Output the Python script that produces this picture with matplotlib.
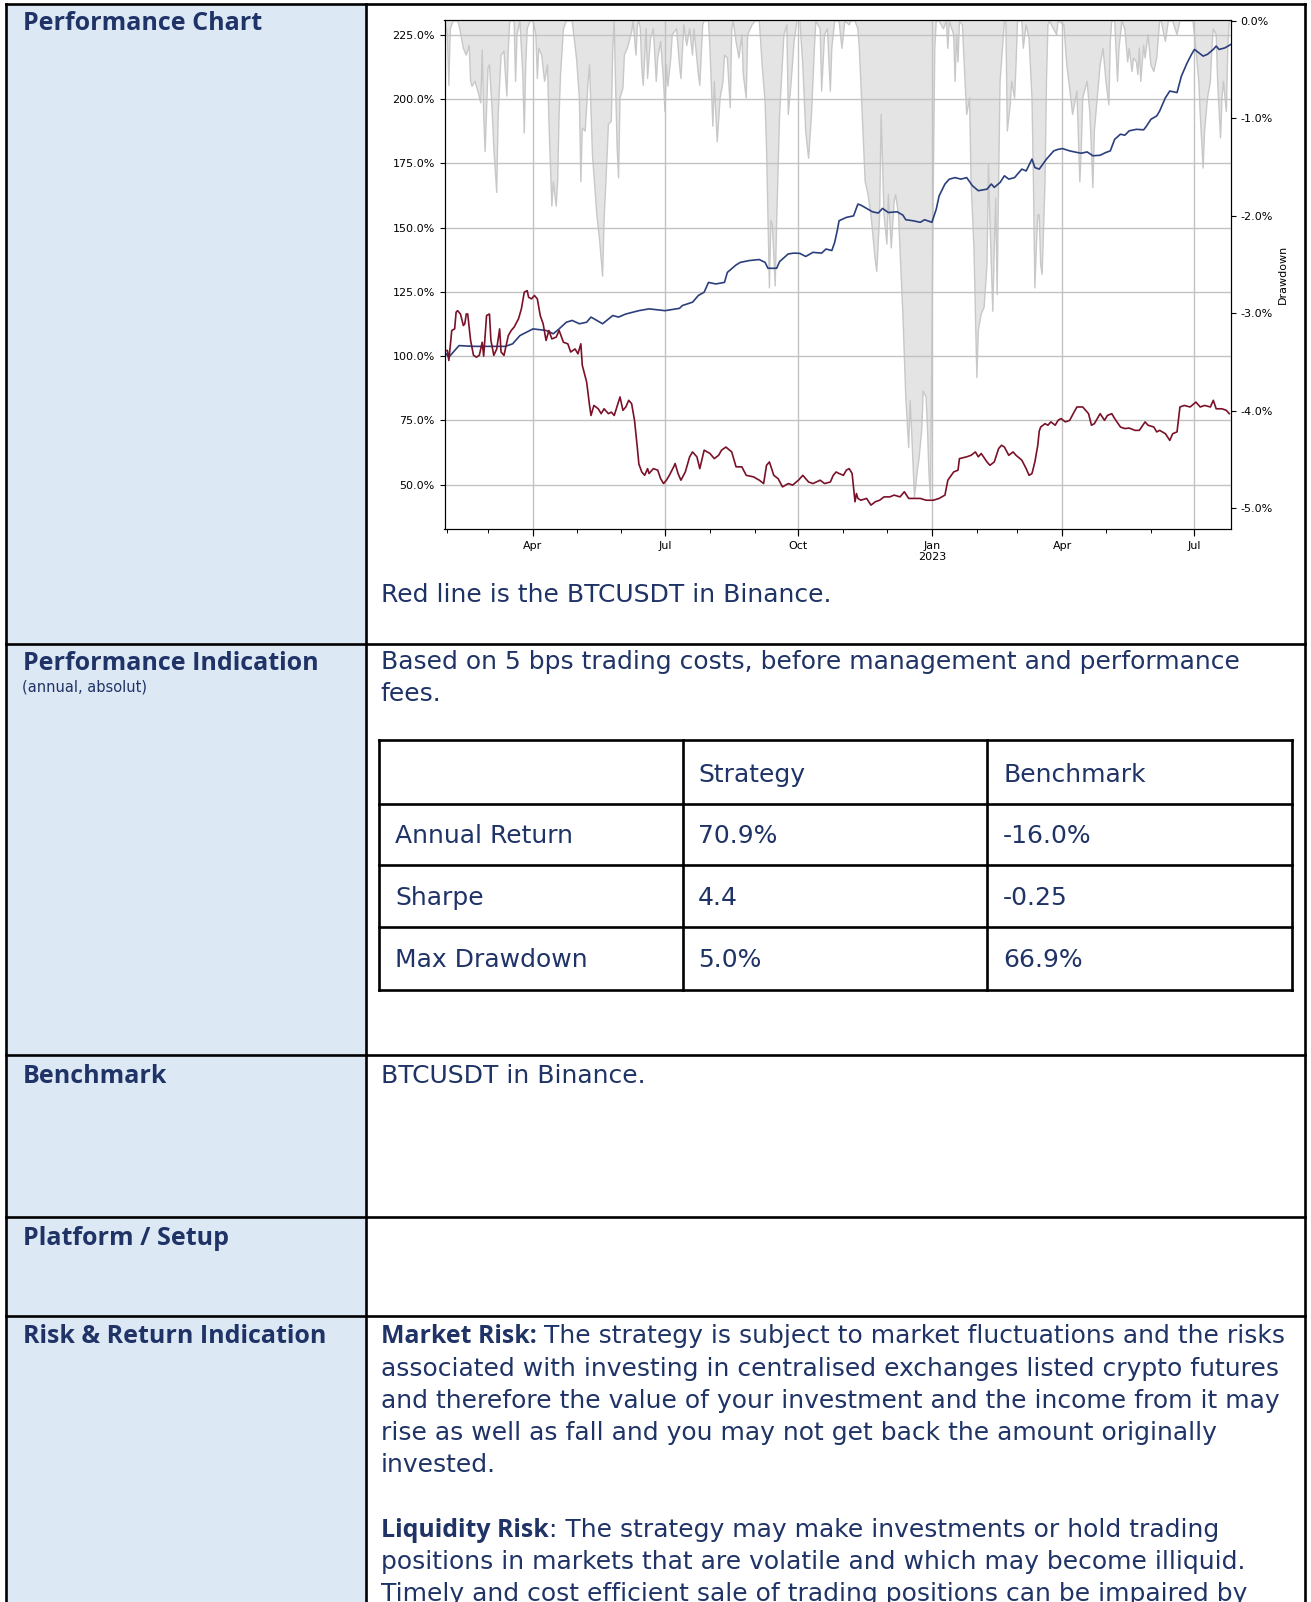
#!/usr/bin/env python3
"""
Strategy factsheet page: performance chart vs BTCUSDT benchmark with
drawdown shading, plus the descriptive table cells below it.
"""

import numpy as np
import matplotlib
matplotlib.use('Agg')
import matplotlib.pyplot as plt
import matplotlib.dates as mdates
from matplotlib.ticker import FuncFormatter
from matplotlib.patches import Rectangle

# ---------------------------------------------------------------------------
# Data. Days are counted from START.
# ---------------------------------------------------------------------------
START = np.datetime64('2022-01-30')
END_DAY = 542

strat_day = [0, 3, 10, 20, 31, 42, 47, 52, 61, 70,
             75, 79, 84, 88, 93, 98, 101, 109, 116, 120,
             125, 134, 141, 152, 162, 164, 171, 175, 179, 182,
             187, 193, 195, 201, 204, 210, 217, 221, 223, 229,
             231, 237, 241, 245, 249, 254, 260, 263, 267, 269,
             271, 272, 277, 282, 285, 287, 291, 295, 299, 302,
             306, 312, 316, 318, 323, 328, 331, 336, 339, 341,
             345, 348, 352, 356, 360, 364, 368, 374, 377, 379,
             383, 386, 389, 393, 398, 401, 405, 407, 410, 415,
             420, 423, 426, 431, 436, 439, 443, 447, 452, 456,
             459, 462, 466, 469, 472, 477, 482, 484, 487, 491,
             493, 497, 500, 505, 508, 512, 515, 517, 520, 523,
             526, 530, 532, 534, 538, 542]
strat_val = [101.6, 99.6, 104.1, 103.8, 103.8, 103.8, 104.8, 108.0, 110.6, 110.0,
             108.7, 110.6, 113.2, 113.9, 112.6, 113.2, 115.2, 112.6, 115.8, 115.2,
             116.4, 117.7, 118.4, 117.7, 118.6, 119.7, 121.0, 123.6, 124.9, 128.7,
             128.1, 128.7, 132.6, 135.5, 136.5, 137.2, 137.6, 136.5, 134.2, 134.2,
             136.8, 139.8, 140.1, 140.0, 138.8, 140.4, 140.1, 141.7, 141.1, 144.3,
             149.5, 152.7, 154.0, 154.6, 159.2, 158.8, 157.5, 156.2, 155.7, 157.5,
             155.9, 156.2, 154.9, 153.1, 152.7, 152.1, 153.1, 152.1, 157.2, 162.4,
             167.0, 168.9, 169.5, 168.9, 169.5, 166.3, 164.4, 165.0, 167.0, 165.7,
             167.6, 170.2, 168.9, 169.5, 172.8, 172.1, 176.7, 173.4, 172.8, 176.7,
             179.9, 180.5, 180.8, 179.9, 179.3, 179.0, 179.5, 178.0, 178.2, 179.3,
             179.9, 184.4, 186.4, 186.0, 187.7, 188.3, 188.1, 189.6, 192.2, 193.5,
             195.4, 200.6, 203.2, 202.6, 209.0, 214.2, 217.5, 219.4, 218.1, 216.8,
             217.5, 219.4, 220.7, 219.4, 220.0, 221.3]

bench_day = [0, 2, 3, 5, 7, 8, 9, 11, 13, 14,
             15, 16, 18, 20, 22, 24, 26, 27, 29, 31,
             32, 34, 36, 38, 39, 41, 44, 46, 48, 51,
             53, 55, 57, 58, 60, 62, 64, 66, 68, 70,
             72, 74, 77, 79, 82, 85, 87, 90, 92, 94,
             95, 98, 100, 101, 103, 106, 108, 110, 113, 115,
             117, 121, 123, 125, 127, 129, 131, 133, 134, 136,
             138, 140, 141, 144, 147, 149, 151, 153, 155, 158,
             159, 161, 163, 166, 169, 171, 174, 176, 179, 183,
             186, 189, 191, 194, 198, 201, 205, 208, 213, 217,
             220, 222, 224, 227, 230, 233, 237, 240, 244, 247,
             251, 254, 259, 262, 266, 268, 270, 272, 275, 277,
             279, 281, 283, 284, 285, 287, 291, 294, 297, 300,
             303, 307, 310, 314, 317, 320, 323, 328, 332, 337,
             341, 345, 347, 351, 354, 355, 360, 363, 366, 368,
             370, 374, 376, 379, 382, 384, 386, 389, 392, 394,
             398, 401, 403, 405, 407, 409, 410, 411, 414, 416,
             418, 421, 423, 425, 428, 431, 434, 436, 440, 444,
             446, 448, 452, 455, 457, 460, 462, 466, 469, 472,
             476, 479, 483, 485, 489, 491, 493, 497, 500, 502,
             505, 507, 510, 514, 518, 521, 524, 528, 530, 532,
             536, 539, 541]
bench_val = [102.2, 102.2, 98.3, 110.0, 110.6, 117.1, 117.7, 116.4, 111.9, 112.6,
             116.4, 116.4, 106.1, 100.3, 99.6, 100.3, 105.4, 100.0, 115.8, 116.4,
             106.1, 100.3, 102.8, 110.6, 101.6, 100.3, 108.0, 110.0, 111.3, 114.5,
             118.4, 124.9, 125.5, 122.9, 122.3, 123.6, 122.3, 115.8, 112.6, 106.1,
             110.0, 106.7, 107.4, 110.0, 105.4, 104.8, 101.6, 102.8, 100.9, 104.8,
             96.4, 89.9, 80.8, 76.9, 80.8, 79.5, 77.6, 79.5, 77.6, 78.2,
             76.9, 84.1, 78.9, 80.2, 82.8, 81.5, 75.0, 64.0, 58.0, 54.9,
             53.6, 56.2, 54.3, 56.2, 55.6, 52.3, 50.4, 51.7, 53.6, 56.9,
             58.2, 54.3, 51.7, 54.9, 60.8, 62.7, 60.8, 56.2, 63.4, 62.1,
             60.1, 61.4, 63.4, 64.6, 62.7, 56.9, 56.9, 53.6, 53.0, 51.7,
             50.4, 57.5, 58.8, 53.6, 52.3, 49.1, 50.4, 49.8, 51.7, 53.6,
             51.0, 50.4, 51.7, 50.4, 51.0, 53.6, 54.9, 54.3, 53.6, 55.6,
             56.2, 54.3, 43.3, 46.5, 44.6, 43.9, 44.6, 42.0, 43.3, 43.9,
             45.2, 45.2, 45.9, 45.2, 47.2, 44.6, 44.6, 44.6, 43.9, 43.9,
             44.6, 45.9, 51.7, 54.9, 55.6, 60.1, 60.8, 61.4, 62.7, 60.8,
             62.1, 58.8, 57.5, 58.8, 64.0, 65.3, 64.6, 61.4, 62.7, 61.4,
             59.5, 56.2, 53.6, 54.3, 58.8, 65.3, 70.8, 72.4, 73.7, 73.1,
             74.4, 73.1, 75.0, 75.7, 74.4, 75.0, 78.2, 80.2, 80.2, 77.6,
             73.1, 73.7, 77.6, 75.0, 76.9, 77.6, 75.7, 72.4, 71.8, 72.0,
             71.1, 71.1, 74.4, 73.1, 72.4, 70.5, 71.1, 69.8, 67.2, 69.8,
             70.5, 80.2, 80.8, 80.2, 82.1, 80.2, 80.8, 80.2, 82.8, 79.5,
             79.5, 78.9, 77.6]

dd_day = [0, 2, 3, 4, 6, 9, 10, 13, 15, 17,
          18, 19, 21, 23, 25, 26, 27, 28, 30, 31,
          33, 34, 36, 37, 39, 41, 42, 43, 44, 45,
          48, 49, 50, 52, 54, 55, 56, 57, 59, 61,
          63, 64, 65, 67, 69, 71, 72, 74, 75, 77,
          78, 79, 80, 82, 84, 88, 90, 91, 93, 94,
          95, 97, 99, 100, 102, 105, 107, 109, 110, 112,
          113, 115, 116, 117, 118, 119, 120, 121, 123, 124,
          126, 129, 130, 132, 133, 134, 135, 136, 137, 139,
          140, 142, 144, 146, 147, 149, 151, 152, 153, 154,
          156, 157, 160, 162, 163, 165, 167, 169, 171, 172,
          175, 176, 178, 179, 182, 183, 185, 186, 188, 190,
          192, 193, 195, 197, 198, 199, 201, 203, 205, 206,
          208, 209, 212, 214, 217, 219, 221, 222, 224, 225,
          226, 228, 229, 231, 232, 234, 236, 237, 239, 241,
          243, 245, 247, 249, 251, 253, 255, 256, 259, 260,
          262, 264, 266, 267, 269, 272, 274, 276, 279, 280,
          283, 285, 286, 288, 290, 292, 294, 297, 298, 300,
          301, 302, 303, 305, 306, 308, 310, 311, 313, 314,
          316, 318, 320, 321, 322, 323, 324, 326, 327, 329,
          330, 332, 333, 334, 335, 336, 337, 338, 339, 341,
          344, 346, 347, 348, 351, 352, 353, 354, 355, 357,
          360, 362, 363, 365, 366, 367, 368, 370, 372, 374,
          375, 376, 378, 379, 380, 381, 382, 383, 385, 386,
          387, 388, 390, 391, 393, 394, 395, 398, 399, 401,
          403, 405, 406, 407, 408, 409, 410, 411, 412, 414,
          415, 416, 417, 422, 423, 427, 429, 431, 433, 436,
          438, 439, 440, 443, 445, 447, 448, 450, 452, 454,
          456, 458, 459, 460, 462, 464, 465, 467, 469, 471,
          472, 474, 475, 477, 478, 479, 480, 482, 483, 485,
          487, 489, 491, 493, 494, 497, 499, 502, 505, 507,
          516, 518, 520, 521, 523, 524, 525, 526, 528, 529,
          530, 532, 533, 535, 536, 537, 539, 540, 541, 542]
dd_val = [0, -0.14, -0.66, -0.08, 0, 0, -0.04, -0.28, -0.35, -0.25,
          -0.62, -0.67, -0.62, -0.72, -0.84, -0.30, -0.96, -1.34, -0.48, -0.45,
          -0.96, -1.30, -1.76, -0.96, -0.35, -0.31, -0.55, -0.77, -0.28, 0,
          0, -0.62, -0.14, 0, -0.55, -1.15, -0.45, -0.08, 0, 0,
          -0.14, -0.59, -0.28, -0.35, -0.62, -0.45, -1.03, -1.90, -1.65, -1.90,
          -1.65, -0.96, -0.55, -0.08, 0, 0, -0.25, -0.38, -0.79, -1.65,
          -1.10, -1.13, -0.62, -0.45, -1.37, -1.99, -2.26, -2.62, -2.05, -1.41,
          -1.06, -1.03, -0.28, 0, -0.69, -1.30, -1.61, -0.79, -0.69, -0.35,
          -0.28, -0.11, 0, -0.35, -0.04, 0, -0.08, -0.48, -0.66, -0.08,
          -0.59, -0.18, -0.08, -0.62, -0.38, -0.21, -0.62, -0.93, -0.45, -0.67,
          -0.38, -0.14, -0.08, -0.45, -0.59, -0.04, -0.25, -0.08, -0.35, -0.08,
          -0.55, -0.66, -0.04, 0, 0, -0.28, -1.08, -0.62, -1.24, -0.79,
          -0.62, -0.35, -0.38, -0.89, -0.08, 0, -0.21, -0.38, -0.14, -0.55,
          -0.79, -0.14, -0.04, 0, 0, -0.45, -0.83, -1.30, -2.74, -2.05,
          -2.09, -2.72, -2.05, -0.96, -0.69, -0.14, -0.04, -0.96, -0.62, -0.21,
          0, 0, -0.45, -1.13, -1.41, -0.96, -0.28, 0, -0.08, -0.72,
          -0.14, -0.08, -0.72, -0.28, 0, 0, -0.28, 0, -0.04, 0,
          0, -0.08, -0.28, -0.96, -1.65, -1.78, -1.99, -2.46, -2.57, -1.99,
          -0.96, -1.47, -1.99, -2.29, -1.78, -2.33, -1.85, -1.78, -1.99, -2.33,
          -3.01, -3.86, -4.38, -3.90, -4.20, -4.55, -4.89, -4.61, -4.51, -4.20,
          -3.80, -3.86, -4.20, -4.65, -4.90, -3.35, -1.65, -0.28, 0, 0,
          -0.08, 0, -0.28, 0, -0.14, -0.62, -0.14, -0.42, 0, -0.04,
          -0.96, -0.79, -1.65, -2.33, -3.01, -3.66, -3.18, -3.01, -2.94, -2.50,
          -1.47, -2.05, -2.98, -2.33, -1.82, -2.81, -1.65, -0.62, -0.21, 0,
          0, -1.13, -0.86, -0.62, -0.79, -0.45, 0, 0, -0.28, -0.04,
          -0.18, -0.79, -1.65, -2.74, -2.33, -1.99, -1.99, -2.50, -2.60, -1.65,
          -0.62, -0.04, 0, -0.14, 0, -0.04, -0.45, -0.69, -0.96, -0.72,
          -1.65, -1.30, -0.79, -0.62, -0.96, -1.71, -1.13, -0.79, -0.45, -0.28,
          -0.62, -0.86, -0.21, 0, 0, -0.62, -0.28, 0, -0.08, -0.42,
          -0.28, -0.52, -0.38, -0.42, -0.55, -0.28, -0.62, -0.25, -0.38, -0.14,
          -0.45, -0.52, -0.38, 0, 0, -0.21, 0, 0, -0.14, 0,
          0, -0.28, -0.62, -0.96, -1.51, -1.13, -0.96, -0.79, -0.62, -0.28,
          -0.08, -0.14, -0.62, -1.20, -0.79, -0.62, -0.93, -0.28, 0, 0]

# Metrics table
table_cols = ['', 'Strategy', 'Benchmark']
table_rows = ['Annual Return', 'Sharpe', 'Max Drawdown']
strategy_stats = ['70.9%', '4.4', '5.0%']
benchmark_stats = ['-16.0%', '-0.25', '66.9%']

# Page text
section_titles = ['Performance Chart', 'Performance Indication', 'Benchmark',
                  'Platform / Setup', 'Risk & Return Indication']
chart_note = 'Red line is the BTCUSDT in Binance.'
perf_note = ['Based on 5 bps trading costs, before management and performance',
             'fees.']
benchmark_note = 'BTCUSDT in Binance.'
market_risk_lines = ['The strategy is subject to market fluctuations and the risks',
                     'associated with investing in centralised exchanges listed crypto futures',
                     'and therefore the value of your investment and the income from it may',
                     'rise as well as fall and you may not get back the amount originally',
                     'invested.']
liquidity_risk_lines = [': The strategy may make investments or hold trading',
                        'positions in markets that are volatile and which may become illiquid.',
                        'Timely and cost efficient sale of trading positions can be impaired by']

# ---------------------------------------------------------------------------
# Styling
# ---------------------------------------------------------------------------
W, H = 1311, 1602
NAVY = '#1f3366'
CELL_BLUE = '#dde8f5'
BODY_FONT = ['DejaVu Sans']
HEAD_FONT = ['Open Sans', 'DejaVu Sans']
BORDER_LW = 1.9


def to_dates(days):
    return START + np.array(days).astype('timedelta64[D]')


def month_label(x, pos=None):
    d = mdates.num2date(x)
    if d.month == 1:
        return d.strftime('%b') + '\n' + str(d.year)
    return d.strftime('%b')


fig = plt.figure(figsize=(W / 100, H / 100), dpi=100)
renderer = fig.canvas.get_renderer()

# Page layer in pixel coordinates (y grows downwards)
bg = fig.add_axes([0, 0, 1, 1])
bg.set_xlim(0, W)
bg.set_ylim(H, 0)
bg.axis('off')
inv = bg.transData.inverted()


def fit_size(s, family, weight, target_px):
    """Font size that makes string s about target_px wide."""
    t = bg.text(0, 0, s, fontsize=10, family=family, fontweight=weight)
    w = t.get_window_extent(renderer=renderer).width
    t.remove()
    return 10 * target_px / w


BODY_SIZE = fit_size(perf_note[0], BODY_FONT, 'normal', 859)
HEAD_SIZE = fit_size(section_titles[0], HEAD_FONT, 'bold', 239)
SMALL_SIZE = fit_size('(annual, absolut)', BODY_FONT, 'normal', 124)
LEAD_SIZE = fit_size('Market Risk:', HEAD_FONT, 'bold', 156)

X_LEFT, X_DIV, X_RIGHT = 6, 366, 1305
ROW_LINES = [4, 644, 1055, 1217, 1316]

bg.add_patch(Rectangle((X_LEFT, ROW_LINES[0]), X_DIV - X_LEFT, H,
                       facecolor=CELL_BLUE, edgecolor='none', zorder=0))
for y in ROW_LINES:
    bg.plot([X_LEFT, X_RIGHT], [y, y], color='black', lw=BORDER_LW,
            solid_capstyle='projecting', zorder=2)
for x in [X_LEFT, X_DIV, X_RIGHT]:
    bg.plot([x, x], [ROW_LINES[0], H + 5], color='black', lw=BORDER_LW, zorder=2)

# Section titles in the left column
title_baselines = [30, 670, 1083, 1245, 1343]
for title, yb in zip(section_titles, title_baselines):
    bg.text(22.7, yb, title, fontsize=HEAD_SIZE, fontweight='bold', color=NAVY,
            family=HEAD_FONT, va='baseline', ha='left')
bg.text(22, 691, '(annual, absolut)', fontsize=SMALL_SIZE, color=NAVY,
        family=BODY_FONT, va='baseline', ha='left')


def body(x, yb, s, **kw):
    return bg.text(x, yb, s, fontsize=BODY_SIZE, color=NAVY, family=BODY_FONT,
                   va='baseline', ha='left', **kw)


TX = 380.8
body(TX, 602, chart_note)
body(TX, 669.5, perf_note[0])
body(TX, 701, perf_note[1])
body(TX, 1083, benchmark_note)

# Metrics table
tab_x = [379, 682.6, 987, 1292]
tab_y = [740, 803.5, 865, 926.7, 989.5]
for y in tab_y:
    bg.plot([tab_x[0], tab_x[-1]], [y, y], color='black', lw=BORDER_LW,
            solid_capstyle='projecting', zorder=2)
for x in tab_x:
    bg.plot([x, x], [tab_y[0], tab_y[-1]], color='black', lw=BORDER_LW, zorder=2)

text_x = [395, 698, 1003]
header_base = 782
row_bases = [843.3, 905.2, 967]
for cx, name in zip(text_x, table_cols):
    body(cx, header_base, name)
for yb, name, s_val, b_val in zip(row_bases, table_rows, strategy_stats, benchmark_stats):
    body(text_x[0], yb, name)
    body(text_x[1], yb, s_val)
    body(text_x[2], yb, b_val)


# Risk paragraphs with a bold lead-in
def lead_in(yb, bold_text, lines, spacing, gap):
    t = bg.text(TX, yb, bold_text, fontsize=LEAD_SIZE, fontweight='bold',
                color=NAVY, family=HEAD_FONT, va='baseline', ha='left')
    bb = t.get_window_extent(renderer=renderer)
    x_end = inv.transform((bb.x1, bb.y0))[0]
    body(x_end + gap, yb, lines[0])
    for i, line in enumerate(lines[1:], start=1):
        body(TX, yb + i * spacing, line)


lead_in(1343.3, 'Market Risk:', market_risk_lines, 32.25, 7)
lead_in(1536.7, 'Liquidity Risk', liquidity_risk_lines, 32.0, 0)

# ---------------------------------------------------------------------------
# Performance chart
# ---------------------------------------------------------------------------
ax_l, ax_r, ax_t, ax_b = 444.5, 1230.7, 20.4, 529
rect = [ax_l / W, 1 - ax_b / H, (ax_r - ax_l) / W, (ax_b - ax_t) / H]

ax_dd = fig.add_axes(rect)
ax = fig.add_axes(rect, sharex=ax_dd)
ax.patch.set_visible(False)

dd_dates = to_dates(dd_day)
ax_dd.fill_between(dd_dates, dd_val, 0, facecolor='#e4e4e4', lw=0)
ax_dd.plot(dd_dates, dd_val, color='#c8c8c8', lw=1.0)
ax_dd.set_ylim(-5.216, 0.006)
ax_dd.yaxis.tick_right()
ax_dd.yaxis.set_label_position('right')
ax_dd.set_yticks([0, -1, -2, -3, -4, -5])
ax_dd.yaxis.set_major_formatter(FuncFormatter(lambda v, p: f'{v:.1f}%'))
ax_dd.set_ylabel('Drawdown', fontsize=8, labelpad=4)
ax_dd.tick_params(axis='y', labelsize=8)
ax_dd.tick_params(axis='x', labelbottom=False)

ax.plot(to_dates(strat_day), strat_val, color='#2b3f7c', lw=1.2)
ax.plot(to_dates(bench_day), bench_val, color='#7a1128', lw=1.2)
ax.set_ylim(32.7, 230.7)
ax.set_yticks([50, 75, 100, 125, 150, 175, 200, 225])
ax.yaxis.set_major_formatter(FuncFormatter(lambda v, p: f'{v:.1f}%'))
ax.yaxis.tick_left()
ax.set_xlim(START, START + np.timedelta64(END_DAY, 'D'))
ax.xaxis.set_major_locator(mdates.MonthLocator(bymonth=[1, 4, 7, 10]))
ax.xaxis.set_minor_locator(mdates.MonthLocator())
ax.xaxis.set_major_formatter(FuncFormatter(month_label))
ax.xaxis.set_minor_formatter(FuncFormatter(lambda v, p: ''))
ax.tick_params(axis='both', which='major', labelsize=8)
ax.tick_params(axis='x', which='major', length=5)
ax.tick_params(axis='x', which='minor', length=3)
ax.grid(True, which='major', color='#c2c2c2', lw=1.0)
for lbl in ax.get_xticklabels():
    lbl.set_ha('center')

fig.savefig('out.png', dpi=100)
